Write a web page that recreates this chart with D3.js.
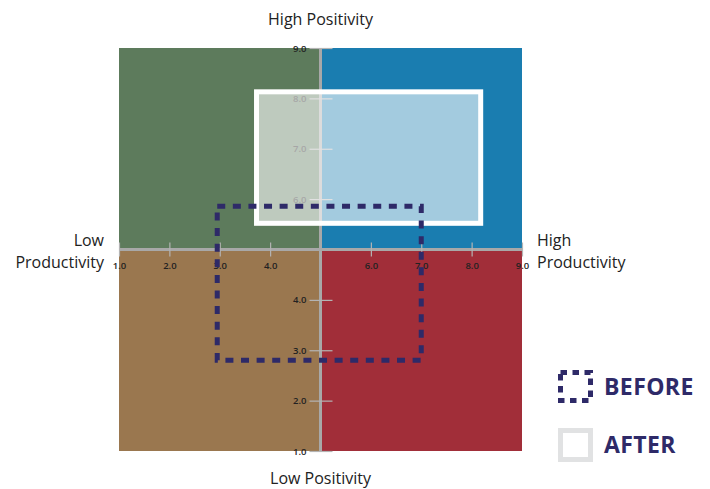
<!DOCTYPE html>
<html>
    <head>
        <meta charset="utf-8">
        <title></title>
        <style>
            body { margin: 0; background: #fff; }
            text { font-family: "Open Sans", "Noto Sans", sans-serif; }
        </style>
    </head>
    <body>
        <svg width="710" height="489"></svg>
        <script src="https://d3js.org/d3.v7.min.js"></script>
        <script>

        // quadrants: [x0, x1, y0, y1] in chart units
        var quadNames = ["lowProd-highPos", "highProd-highPos", "lowProd-lowPos", "highProd-lowPos"];
        var quadX = [[1, 5], [5, 9], [1, 5], [5, 9]];
        var quadY = [[5, 9], [5, 9], [1, 5], [1, 5]];
        var quadColors = ["#5d7b5c", "#1a7db0", "#9a774f", "#a12e39"];

        var xTicks = [1, 2, 3, 4, 6, 7, 8, 9];
        var yTicks = [9, 8, 7, 6, 4, 3, 2, 1];

        // before / after boxes: [xmin, xmax, ymin, ymax]
        var beforeBox = [2.95, 7.0, 2.8, 5.86];
        var afterBox = [3.73, 8.18, 5.52, 8.13];

        var legendLabels = ["BEFORE", "AFTER"];

        var svg = d3.select("svg");

        var x = d3.scaleLinear().domain([1, 9]).range([119, 522]);
        var y = d3.scaleLinear().domain([1, 9]).range([451, 48]);

        // quadrants
        svg.selectAll("rect.quad")
            .data(quadNames)
            .enter().append("rect")
            .attr("class", "quad")
            .attr("x", function(d, i) { return x(quadX[i][0]); })
            .attr("width", function(d, i) { return x(quadX[i][1]) - x(quadX[i][0]); })
            .attr("y", function(d, i) { return y(quadY[i][1]); })
            .attr("height", function(d, i) { return y(quadY[i][0]) - y(quadY[i][1]); })
            .attr("fill", function(d, i) { return quadColors[i]; });

        // axis lines through the middle
        svg.append("line")
            .attr("x1", x(5)).attr("x2", x(5))
            .attr("y1", y(9)).attr("y2", y(1))
            .attr("stroke", "#a8a8a8").attr("stroke-width", 3);
        svg.append("line")
            .attr("x1", x(1)).attr("x2", x(9))
            .attr("y1", y(5)).attr("y2", y(5))
            .attr("stroke", "#a8a8a8").attr("stroke-width", 3);

        // y axis
        var gy = svg.append("g")
            .attr("transform", "translate(" + x(5) + ",0)")
            .call(d3.axisLeft(y).tickValues(yTicks).tickSize(11).tickFormat(d3.format(".1f")));
        gy.select(".domain").remove();
        gy.selectAll(".tick line")
            .attr("x1", -11).attr("x2", 12)
            .attr("stroke", "#b4b4b4").attr("stroke-width", 1.2);
        gy.selectAll(".tick text")
            .attr("x", -14)
            .attr("fill", "#222")
            .style("font-size", "9.5px")
            .style("font-weight", "600");

        // x axis
        var gx = svg.append("g")
            .attr("transform", "translate(0," + y(5) + ")")
            .call(d3.axisBottom(x).tickValues(xTicks).tickSize(7).tickFormat(d3.format(".1f")));
        gx.select(".domain").remove();
        gx.selectAll(".tick line")
            .attr("y1", -7).attr("y2", 7)
            .attr("stroke", "#b4b4b4").attr("stroke-width", 1.2);
        gx.selectAll(".tick text")
            .attr("y", 13)
            .attr("fill", "#222")
            .style("font-size", "9.5px")
            .style("font-weight", "600");

        // after box
        svg.append("rect")
            .attr("x", x(afterBox[0]))
            .attr("y", y(afterBox[3]))
            .attr("width", x(afterBox[1]) - x(afterBox[0]))
            .attr("height", y(afterBox[2]) - y(afterBox[3]))
            .attr("fill", "#fff").attr("fill-opacity", 0.6)
            .attr("stroke", "#fff").attr("stroke-width", 5);

        // before box
        svg.append("rect")
            .attr("x", x(beforeBox[0]))
            .attr("y", y(beforeBox[3]))
            .attr("width", x(beforeBox[1]) - x(beforeBox[0]))
            .attr("height", y(beforeBox[2]) - y(beforeBox[3]))
            .attr("fill", "none")
            .attr("stroke", "#2e2a68").attr("stroke-width", 5)
            .attr("stroke-dasharray", "8,7.6");

        // quadrant labels
        svg.append("text")
            .attr("x", x(5)).attr("y", 25)
            .attr("text-anchor", "middle")
            .attr("fill", "#222").style("font-size", "16px")
            .text("High Positivity");
        svg.append("text")
            .attr("x", x(5)).attr("y", 484)
            .attr("text-anchor", "middle")
            .attr("fill", "#222").style("font-size", "16px")
            .text("Low Positivity");

        var lowProd = svg.append("text")
            .attr("text-anchor", "end")
            .attr("fill", "#222").style("font-size", "16px");
        lowProd.append("tspan").attr("x", 104).attr("y", 246).text("Low");
        lowProd.append("tspan").attr("x", 104).attr("y", 268).text("Productivity");

        var highProd = svg.append("text")
            .attr("text-anchor", "start")
            .attr("fill", "#222").style("font-size", "16px");
        highProd.append("tspan").attr("x", 537).attr("y", 246).text("High");
        highProd.append("tspan").attr("x", 537).attr("y", 268).text("Productivity");

        // legend
        var legend = svg.append("g");
        legend.append("rect")
            .attr("x", 560.5).attr("y", 372.5)
            .attr("width", 30).attr("height", 28)
            .attr("fill", "none")
            .attr("stroke", "#2e2a68").attr("stroke-width", 5)
            .attr("stroke-dasharray", "6.5,5.5");
        legend.append("rect")
            .attr("x", 560.5).attr("y", 430.5)
            .attr("width", 30).attr("height", 29)
            .attr("fill", "none")
            .attr("stroke", "#e1e2e3").attr("stroke-width", 5);

        legend.selectAll("text.leg")
            .data(legendLabels)
            .enter().append("text")
            .attr("class", "leg")
            .attr("x", 604)
            .attr("y", function(d, i) { return 395 + i * 58; })
            .attr("fill", "#2e2a68")
            .style("font-size", "23px")
            .style("font-weight", "700")
            .style("letter-spacing", "0.4px")
            .text(function(d) { return d; });

        </script>
    </body>
</html>
